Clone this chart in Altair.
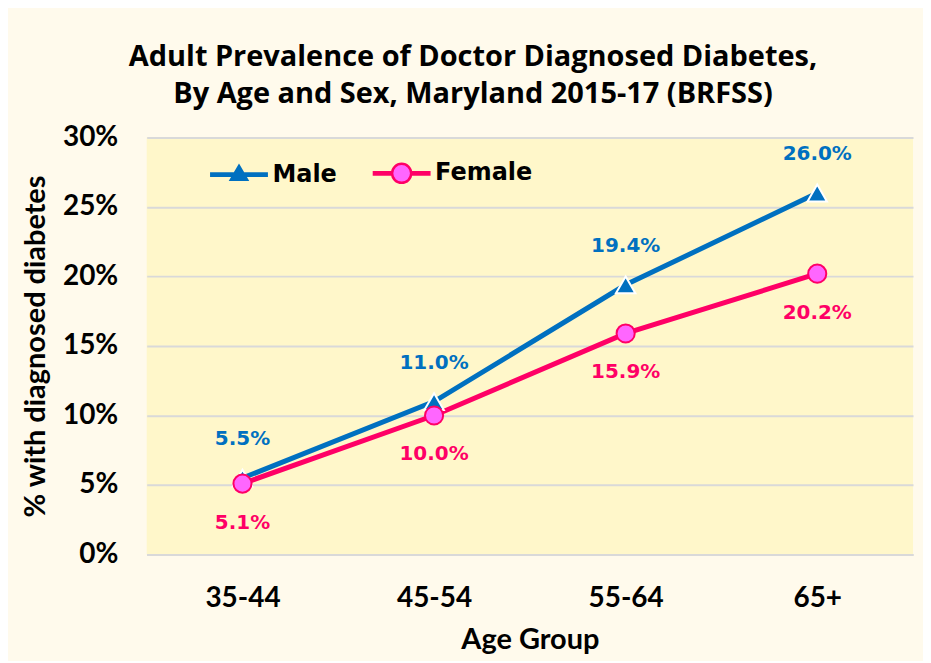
import altair as alt
import pandas as pd

# ---- data ----
age_groups = ["35-44", "45-54", "55-64", "65+"]
series = ["Male", "Female"]
male_values = [5.5, 11.0, 19.4, 26.0]
female_values = [5.1, 10.0, 15.9, 20.2]
y_ticks = [0, 5, 10, 15, 20, 25, 30]

title_lines = ["Adult Prevalence of Doctor Diagnosed Diabetes,",
               "By Age and Sex, Maryland 2015-17 (BRFSS)"]

BLUE = "#0070C0"
RED = "#FF0066"
PINK = "#FF66FF"
PLOT_BG = "#FFF7CA"
CHART_BG = "#FFFAEC"
GRID = "#D9D9D9"
AXIS_FONT = "Lato"
TITLE_FONT = "Open Sans"
LABEL_FONT = "DejaVu Sans"

rows = []
for s, vals in zip(series, [male_values, female_values]):
    for a, v in zip(age_groups, vals):
        rows.append({"Age": a, "Sex": s, "Value": v})
df = pd.DataFrame(rows)

# legend glyphs: line segment + marker, in unit coordinates
male_glyph = ("M-1,-0.04H1M-1,0.04H1"
              "M0,-0.3L0.28,0.18L-0.28,0.18Z")
female_glyph = ("M-1,-0.04H-0.33M-1,0.04H-0.33M0.33,-0.04H1M0.33,0.04H1"
                "M-0.33,0A0.33,0.33,0,1,0,0.33,0A0.33,0.33,0,1,0,-0.33,0Z")

x_enc = alt.X(
    "Age:N", sort=age_groups,
    scale=alt.Scale(type="point", padding=0.5),
    axis=alt.Axis(title="Age Group", labelAngle=0, ticks=False, domain=True,
                  domainColor=GRID, domainWidth=2, grid=False,
                  labelFont=AXIS_FONT, labelFontSize=28, labelFontWeight="bold",
                  labelColor="black", labelPadding=30,
                  titleFont=AXIS_FONT, titleFontSize=29, titleFontWeight="bold",
                  titleColor="black", titlePadding=13),
)
y_enc = alt.Y(
    "Value:Q",
    scale=alt.Scale(domain=[0, 30], nice=False),
    axis=alt.Axis(values=y_ticks, labelExpr="datum.value + '%'",
                  title="% with diagnosed diabetes", ticks=False, domain=False,
                  grid=True, gridColor=GRID, gridWidth=2,
                  labelFont=AXIS_FONT, labelFontSize=28, labelFontWeight="bold",
                  labelColor="black", labelPadding=29,
                  titleFont=AXIS_FONT, titleFontSize=29, titleFontWeight="bold",
                  titleColor="black", titlePadding=12),
)

is_male = alt.datum.Sex == "Male"
base = alt.Chart(df)

lines = base.mark_line(strokeWidth=5).encode(
    x=x_enc, y=y_enc,
    detail="Sex:N",
    stroke=alt.condition(is_male, alt.value(BLUE), alt.value(RED)),
)

points = base.mark_point(filled=True, opacity=1, strokeWidth=2).encode(
    x=x_enc, y=y_enc,
    shape=alt.condition(is_male, alt.value("triangle-up"), alt.value("circle")),
    fill=alt.condition(is_male, alt.value(BLUE), alt.value(PINK)),
    stroke=alt.condition(is_male, alt.value("white"), alt.value(RED)),
    size=alt.condition(is_male, alt.value(380), alt.value(330)),
)

legend = alt.Legend(
    title=None, orient="none", legendX=62, legendY=5, direction="horizontal",
    padding=0, symbolSize=3364, symbolStrokeWidth=2.5, labelOffset=3,
    columnPadding=30, labelFont=LABEL_FONT, labelFontSize=24,
    labelFontWeight="bold", labelColor="black", symbolOpacity=1,
)

legend_layer = base.mark_point(filled=True, opacity=1).encode(
    x=x_enc, y=y_enc,
    shape=alt.Shape("Sex:N", scale=alt.Scale(domain=series, range=[male_glyph, female_glyph]), legend=legend),
    fill=alt.Fill("Sex:N", scale=alt.Scale(domain=series, range=[BLUE, PINK]), legend=legend),
    stroke=alt.Stroke("Sex:N", scale=alt.Scale(domain=series, range=[BLUE, RED]), legend=legend),
).transform_filter("false")

labels_common = dict(font=LABEL_FONT, fontSize=20, fontWeight="bold")
male_text = base.mark_text(dy=-39, color=BLUE, **labels_common).encode(
    x=x_enc, y=y_enc, text="Label:N",
).transform_filter(is_male).transform_calculate(Label="format(datum.Value, '.1f') + '%'")
female_text = base.mark_text(dy=39, color=RED, **labels_common).encode(
    x=x_enc, y=y_enc, text="Label:N",
).transform_filter(alt.datum.Sex == "Female").transform_calculate(Label="format(datum.Value, '.1f') + '%'")

chart = alt.layer(lines, points, male_text, female_text, legend_layer).properties(
    width=768, height=418,
    title=alt.TitleParams(text=title_lines, font=TITLE_FONT, fontSize=29, fontWeight="bold",
                          color="black", lineHeight=38, anchor="middle", dx=-57, offset=14),
    padding={"left": 139, "top": 129, "right": 10, "bottom": 106},
    autosize=alt.AutoSizeParams(type="none"),
    background=CHART_BG,
).configure_view(fill=PLOT_BG, stroke=None)

chart.save("out.html", embed_options={"renderer": "svg", "actions": False})
